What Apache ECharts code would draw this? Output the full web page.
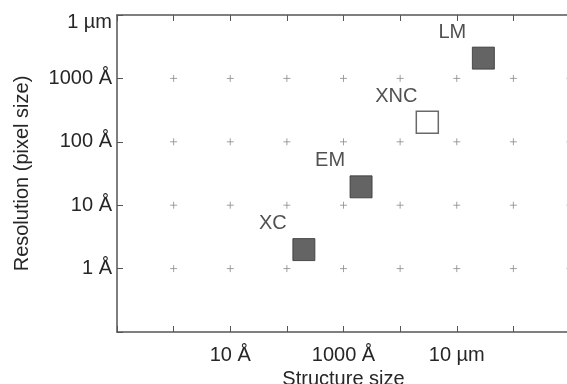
<!DOCTYPE html>
<html><head><meta charset="utf-8">
<script src="https://cdn.jsdelivr.net/npm/echarts@6/dist/echarts.min.js"></script>
<style>html,body{margin:0;padding:0;background:#fff}#c{width:567px;height:384px}</style>
</head><body><div id="c"></div>
<script>
// log10 of size in Å
var names = ['XC', 'EM', 'XNC', 'LM'];
var structureLog = [2.30, 3.31, 4.48, 5.47];
var resolutionLog = [0.30, 1.29, 2.31, 3.32];
var filled = [true, true, false, true];
var xTickValues = [1, 3, 5];
var xTickTexts = ['10 Å', '1000 Å', '10 µm'];
var yTickValues = [0, 1, 2, 3, 4];
var yTickTexts = ['1 Å', '10 Å', '100 Å', '1000 Å', '1 µm'];
var crossXs = [0, 1, 2, 3, 4, 5, 6, 7];
var crossYs = [0, 1, 2, 3];

var font = 'Liberation Sans, Arial, Helvetica, sans-serif';
var textColor = '#262626';
var lineColor = '#555';

function lookup(vals, texts, v) {
  for (var i = 0; i < vals.length; i++) if (Math.abs(vals[i] - v) < 1e-9) return texts[i];
  return '';
}

var crossData = [];
crossXs.forEach(function (x) { crossYs.forEach(function (y) { crossData.push([x, y]); }); });

var pointData = names.map(function (n, i) {
  return {
    name: n,
    value: [structureLog[i], resolutionLog[i]],
    itemStyle: filled[i]
      ? { color: '#3d3d3d', borderColor: '#333', borderWidth: 1 }
      : { color: '#fff', borderColor: '#444', borderWidth: 1.5 }
  };
});

var yMax = 4;

var chart = echarts.init(document.getElementById('c'), null, { renderer: 'canvas' });
chart.setOption({
  backgroundColor: '#fff',
  animation: false,
  textStyle: { fontFamily: font },
  grid: { left: 117, top: 15, bottom: 52, right: -3, containLabel: false, outerBoundsMode: 'none' },
  xAxis: [{
    type: 'value', min: -1, max: 7, interval: 1, position: 'bottom',
    name: 'Structure size', nameLocation: 'middle', nameGap: 35,
    nameTextStyle: { fontSize: 20, color: textColor, fontFamily: font },
    axisLine: { show: true, onZero: false, lineStyle: { color: lineColor, width: 1.5 } },
    axisTick: { show: true, inside: true, length: 6, lineStyle: { color: lineColor, width: 1 } },
    axisLabel: { margin: 13, fontSize: 20, color: textColor, fontFamily: font,
      formatter: function (v) { return lookup(xTickValues, xTickTexts, v); } },
    splitLine: { show: false }
  }, {
    type: 'value', min: -1, max: 7, interval: 1, position: 'top',
    axisLine: { show: true, onZero: false, lineStyle: { color: lineColor, width: 1.5 } },
    axisTick: { show: true, inside: true, length: 6, lineStyle: { color: lineColor, width: 1 } },
    axisLabel: { show: false },
    splitLine: { show: false }
  }],
  yAxis: [{
    type: 'value', min: -1, max: yMax, interval: 1, position: 'left',
    name: 'Resolution (pixel size)', nameLocation: 'middle', nameGap: 85,
    nameTextStyle: { fontSize: 20, color: textColor, fontFamily: font },
    axisLine: { show: true, onZero: false, lineStyle: { color: lineColor, width: 1.5 } },
    axisTick: { show: true, inside: true, length: 6, lineStyle: { color: lineColor, width: 1 } },
    axisLabel: { margin: 5, fontSize: 20, color: textColor, fontFamily: font,
      formatter: function (v) {
        var t = lookup(yTickValues, yTickTexts, v);
        return (v === yMax && t) ? '{top|' + t + '}' : t;
      },
      rich: { top: { fontSize: 20, color: textColor, fontFamily: font, padding: [14, 0, 0, 0] } }
    },
    splitLine: { show: false }
  }],
  series: [{
    type: 'scatter', data: crossData, silent: true, z: 1,
    symbol: 'path://M0,5L10,5M5,0L5,10', symbolSize: 7,
    itemStyle: { color: 'none', borderColor: '#8a8a8a', borderWidth: 1 }
  }, {
    type: 'scatter', data: pointData, z: 3,
    symbol: 'rect', symbolSize: 22,
    label: { show: true, position: 'inside', offset: [-31, -26],
      formatter: '{b}', fontSize: 20, color: textColor, fontFamily: font }
  }]
});
</script></body></html>
